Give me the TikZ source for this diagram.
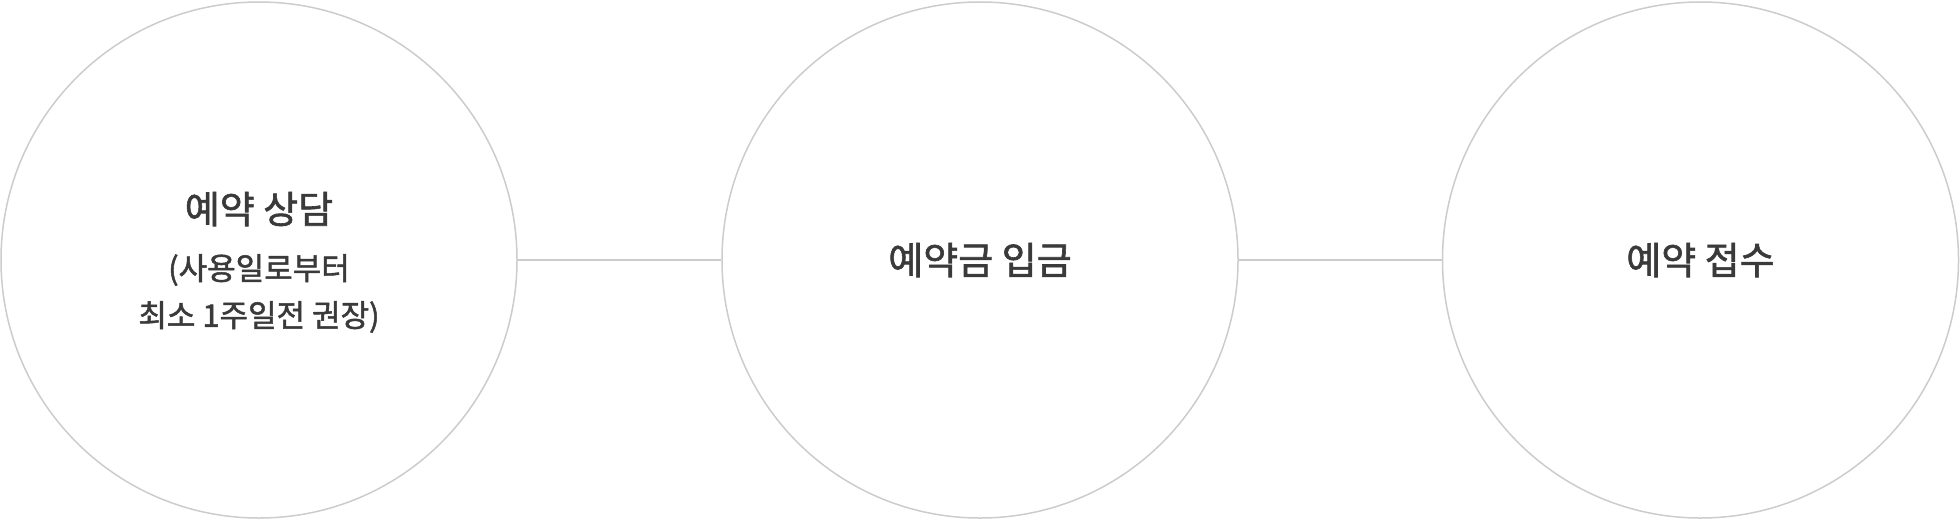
\documentclass[tikz,border=0pt]{standalone}
\usepackage{fontspec}
\setmainfont{Noto Sans CJK KR}[AutoFakeBold=1.6]
\usepackage{tikz}
\usetikzlibrary{positioning}
\definecolor{ringgray}{HTML}{CCCCCC}
\definecolor{textgray}{HTML}{3A3A3A}

\begin{document}
\begin{tikzpicture}[x=1pt,y=-1pt,
    stage/.style={circle, draw=ringgray, line width=1.5pt, minimum size=516pt, inner sep=0pt,
                  text=textgray, font=\fontsize{38}{42}\selectfont\bfseries},
    note/.style={text=textgray, inner sep=0pt, font=\fontsize{31}{35}\selectfont\bfseries},
    link/.style={draw=ringgray, line width=1.5pt}]
  \useasboundingbox (0,0) rectangle (1960,520);

  % stages
  \node[stage] (consult) at (259,260) {};
  \node[stage] (deposit) at (980,260) {예약금 입금};
  \node[stage] (confirm) at (1700.5,260) {예약 접수};

  % texts of first stage
  \node[note, font=\fontsize{38}{42}\selectfont\bfseries] (consult title) at (259,209) {예약 상담};
  \node[note] (consult note a) at (259,270) {(사용일로부터};
  \node[note] (consult note b) at (259,317) {최소 1주일전 권장)};

  % links
  \draw[link] (consult) -- (deposit);
  \draw[link] (deposit) -- (confirm);
\end{tikzpicture}
\end{document}
